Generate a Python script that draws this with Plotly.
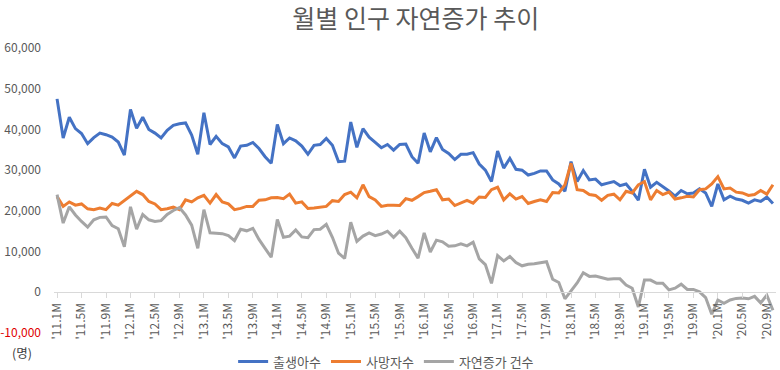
import plotly.graph_objects as go

# ---- data ----
YEARS = ["11", "12", "13", "14", "15", "16", "17", "18", "19", "20"]
MONTHS = [f"'{y}.{m}M" for y in YEARS for m in range(1, 13)][:118]  # 2011.1 .. 2020.10

TICK_LABELS = ["'11.1M", "'11.5M", "'11.9M", "'12.1M", "'12.5M", "'12.9M",
               "'13.1M", "'13.5M", "'13.9M", "'14.1M", "'14.5M", "'14.9M",
               "'15.1M", "'15.5M", "'15.9M", "'16.1M", "'16.5M", "'16.9M",
               "'17.1M", "'17.5M", "'17.9M", "'18.1M", "'18.5M", "'18.9M",
               "'19.1M", "'19.5M", "'19.9M", "'20.1M", "'20.5M", "'20.9M"]

births = [
    47500, 37900, 43000, 40200, 39000, 36500, 38000, 39100, 38700, 38100, 36900, 33700,
    44900, 40300, 43000, 40000, 39100, 37900, 39800, 41000, 41400, 41600, 38600, 33900,
    44100, 36300, 38300, 36500, 35700, 33000, 35900, 36100, 36800, 35300, 33300, 31700,
    41200, 36500, 37900, 37200, 35900, 33900, 36100, 36300, 37800, 36100, 32100, 32200,
    41800, 35600, 40200, 38100, 36800, 35500, 36300, 34900, 36300, 36400, 33300, 31700,
    39100, 34500, 38000, 35100, 34100, 32600, 33900, 33900, 34300, 31500, 30000, 27200,
    34700, 30500, 32900, 30200, 30000, 28800, 29200, 29800, 29800, 27600, 26600, 24800,
    32100, 27200, 29900, 27600, 27800, 26400, 26800, 27200, 26200, 26600, 24800, 22600,
    30200, 25800, 27000, 26000, 24900, 23600, 25000, 24200, 24400, 25400, 24400, 21100,
    26600, 22700, 23600, 22900, 22600, 21900, 22700, 22300, 23400, 21800,
]

deaths = [
    23500, 21100, 22200, 21400, 21700, 20500, 20300, 20700, 20300, 21800, 21400, 22500,
    23800, 24800, 24000, 22300, 21700, 20300, 20500, 20900, 20300, 22700, 22200, 23200,
    23800, 21900, 24000, 22200, 21700, 20300, 20600, 21100, 21100, 22600, 22700, 23200,
    23300, 23000, 24100, 21900, 22200, 20600, 20700, 20900, 21100, 22500, 22300, 24000,
    24600, 23200, 26400, 23500, 22700, 21100, 21400, 21400, 21300, 23000, 22600, 23500,
    24500, 24800, 25200, 22700, 22900, 21300, 21900, 22600, 21900, 23400, 23300, 25200,
    25800, 22700, 24200, 22900, 23500, 21800, 22300, 22700, 22300, 24500, 24400, 26400,
    31700, 25200, 25000, 24000, 23800, 22600, 23800, 24100, 22700, 24800, 24400, 26400,
    27200, 22700, 25000, 24000, 24600, 22900, 23200, 23600, 23400, 25200, 25400, 26600,
    28400, 25400, 25600, 24600, 24400, 23800, 24000, 25000, 24100, 26400,
]

natural_increase = [
    24000, 17000, 21000, 19000, 17400, 16000, 17800, 18400, 18500, 16400, 15600, 11200,
    21000, 15500, 19100, 17800, 17400, 17600, 19100, 20100, 20800, 19000, 16500, 10800,
    20300, 14600, 14500, 14400, 13900, 12700, 15500, 15100, 15700, 13000, 10800, 8600,
    17900, 13500, 13800, 15300, 13600, 13400, 15400, 15500, 16700, 13500, 9600, 8300,
    17200, 12500, 13800, 14600, 13900, 14300, 15000, 13500, 15000, 13400, 10800, 8400,
    14600, 9900, 12800, 12400, 11300, 11400, 11900, 11400, 12300, 8200, 6800, 2200,
    9000, 7700, 8800, 7300, 6500, 6900, 7000, 7200, 7500, 3200, 2400, -1600,
    400, 2300, 4800, 3900, 4000, 3600, 3200, 3300, 3300, 1800, 1000, -3600,
    3000, 3000, 2200, 2200, 600, 1000, 2000, 700, 700, 100, -1300, -5400,
    -1900, -2700, -1900, -1500, -1400, -1600, -1000, -2600, -700, -4400,
]

SERIES_NAMES = ["출생아수", "사망자수", "자연증가 건수"]
Y_TICKS = [-10000, 0, 10000, 20000, 30000, 40000, 50000, 60000]

# ---- styling ----
COLORS = ["#4472C4", "#ED7D31", "#A5A5A5"]
FONT = "Noto Sans CJK KR, Noto Sans, sans-serif"
TXT = "#595959"

fig = go.Figure()
for name, vals, col in zip(SERIES_NAMES, [births, deaths, natural_increase], COLORS):
    fig.add_trace(go.Scatter(x=MONTHS, y=vals, mode="lines", name=name,
                             line=dict(color=col, width=3)))

y_ticktext = []
for v in Y_TICKS:
    s = f"{v:,}"
    if v < 0:
        s = f"<span style='color:#E00000'>{s}</span>"
    y_ticktext.append(s)

fig.update_layout(
    width=780, height=370,
    margin=dict(l=54, r=4, t=48, b=37, autoexpand=False),
    paper_bgcolor="white", plot_bgcolor="white",
    font=dict(family=FONT, color=TXT, size=12),
    title=dict(text="월별 인구 자연증가 추이", x=0.533, xanchor="center",
               y=0.948, yanchor="middle",
               font=dict(size=25, color=TXT, family=FONT)),
    showlegend=True,
    legend=dict(orientation="h", x=0.46, xanchor="center", y=-0.1, yanchor="middle",
                font=dict(size=13, color=TXT), itemwidth=30, bgcolor="rgba(0,0,0,0)"),
    xaxis=dict(type="category", categoryorder="array", categoryarray=MONTHS,
               range=[-0.5, len(MONTHS) - 0.5],
               anchor="free", position=1 / 7,
               showline=True, linecolor="#D9D9D9", linewidth=1,
               ticks="outside", ticklen=5, tickcolor="#D9D9D9",
               tickmode="array", tickvals=TICK_LABELS, ticktext=TICK_LABELS,
               tickangle=-90, tickfont=dict(size=12, color=TXT),
               showgrid=False, zeroline=False, automargin=False),
    yaxis=dict(range=[-10000, 60000], tickmode="array", tickvals=Y_TICKS,
               ticktext=y_ticktext, showgrid=False, zeroline=False, showline=False,
               tickfont=dict(size=12, color=TXT), ticklabelstandoff=12,
               automargin=False),
    annotations=[dict(text="(명)", xref="paper", yref="paper", x=-0.044, y=-0.067,
                      xanchor="center", yanchor="middle", showarrow=False,
                      font=dict(size=12.5, color="#404040"))],
)

fig.write_html("out.html", config={"displayModeBar": False},
               post_script="document.body.style.margin='0';")
